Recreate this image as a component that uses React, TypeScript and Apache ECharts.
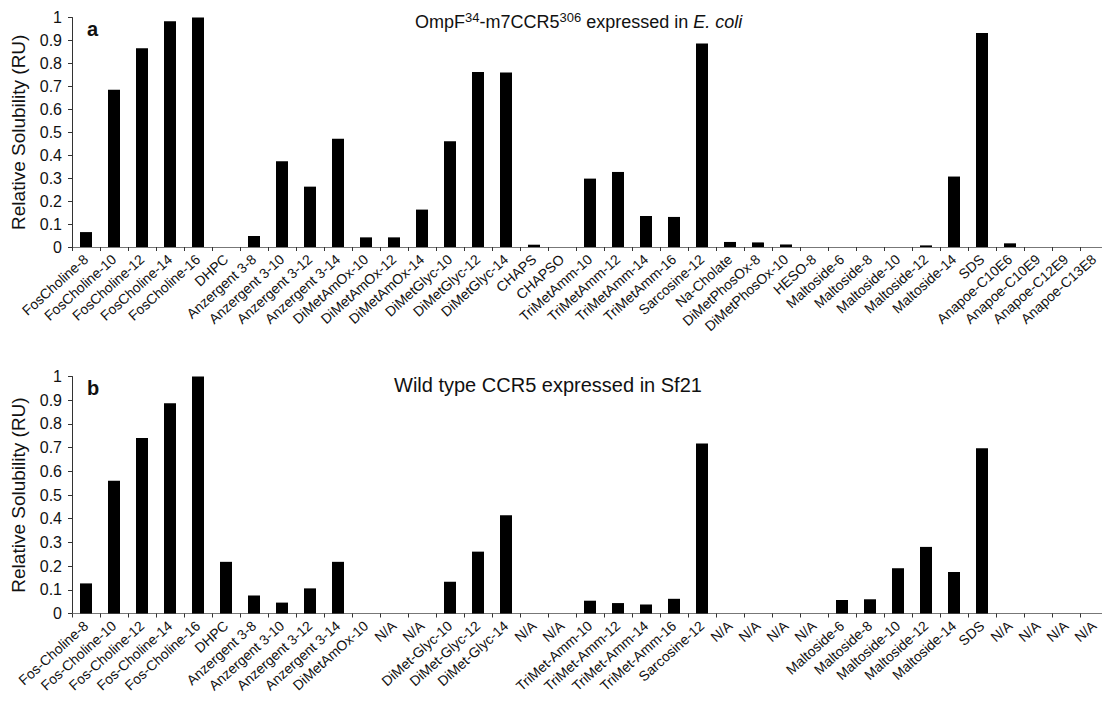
import React, { useEffect, useRef } from "react";
import * as echarts from "echarts";

const topCategories = [
  "FosCholine-8", "FosCholine-10", "FosCholine-12", "FosCholine-14", "FosCholine-16",
  "DHPC", "Anzergent 3-8", "Anzergent 3-10", "Anzergent 3-12", "Anzergent 3-14",
  "DiMetAmOx-10", "DiMetAmOx-12", "DiMetAmOx-14", "DiMetGlyc-10", "DiMetGlyc-12",
  "DiMetGlyc-14", "CHAPS", "CHAPSO", "TriMetAmm-10", "TriMetAmm-12", "TriMetAmm-14",
  "TriMetAmm-16", "Sarcosine-12", "Na-Cholate", "DiMetPhosOx-8", "DiMetPhosOx-10",
  "HESO-8", "Maltoside-6", "Maltoside-8", "Maltoside-10", "Maltoside-12", "Maltoside-14",
  "SDS", "Anapoe-C10E6", "Anapoe-C10E9", "Anapoe-C12E9", "Anapoe-C13E8",
];
const topValues = [
  0.065, 0.685, 0.866, 0.984, 1.0,
  0, 0.048, 0.374, 0.263, 0.472,
  0.042, 0.042, 0.163, 0.461, 0.763,
  0.76, 0.01, 0, 0.298, 0.327, 0.135,
  0.131, 0.887, 0.022, 0.02, 0.011,
  0, 0, 0, 0, 0.007, 0.307,
  0.932, 0.016, 0, 0, 0,
];

const bottomCategories = [
  "Fos-Choline-8", "Fos-Choline-10", "Fos-Choline-12", "Fos-Choline-14", "Fos-Choline-16",
  "DHPC", "Anzergent 3-8", "Anzergent 3-10", "Anzergent 3-12", "Anzergent 3-14",
  "DiMetAmOx-10", "N/A", "N/A", "DiMet-Glyc-10", "DiMet-Glyc-12",
  "DiMet-Glyc-14", "N/A", "N/A", "TriMet-Amm-10", "TriMet-Amm-12", "TriMet-Amm-14",
  "TriMet-Amm-16", "Sarcosine-12", "N/A", "N/A", "N/A",
  "N/A", "Maltoside-6", "Maltoside-8", "Maltoside-10", "Maltoside-12", "Maltoside-14",
  "SDS", "N/A", "N/A", "N/A", "N/A",
];
const bottomValues = [
  0.127, 0.56, 0.74, 0.887, 1.0,
  0.218, 0.076, 0.046, 0.106, 0.218,
  0, 0, 0, 0.134, 0.261,
  0.415, 0, 0, 0.054, 0.044, 0.038,
  0.062, 0.717, 0, 0, 0,
  0, 0.057, 0.06, 0.191, 0.281, 0.175,
  0.697, 0, 0, 0, 0,
];

const yTicks = { min: 0, max: 1, interval: 0.1 };
const topTitle = ["OmpF", "34", "-m7CCR5", "306", " expressed in ", "E. coli"];
const bottomTitle = "Wild type CCR5 expressed in Sf21";
const yName = "Relative Solubility (RU)";

const FONT = "'Liberation Sans', Arial, Helvetica, sans-serif";

export default function App() {
  const ref = useRef<HTMLDivElement>(null);
  useEffect(() => {
    if (!ref.current) return;
    const chart = echarts.init(ref.current, undefined, { renderer: "svg" });
    const makeX = (gridIndex: number, data: string[]) => ({
      type: "category",
      gridIndex,
      data,
      axisLine: { lineStyle: { color: "#777", width: 1 } },
      axisTick: { show: true, length: 4, lineStyle: { color: "#333" } },
      axisLabel: {
        interval: 0,
        rotate: 42,
        margin: 10,
        fontSize: 14,
        color: "#111",
        fontFamily: FONT,
      },
    });
    const makeY = (gridIndex: number) => ({
      type: "value",
      gridIndex,
      min: yTicks.min,
      max: yTicks.max,
      interval: yTicks.interval,
      name: yName,
      nameLocation: "middle",
      nameGap: 44,
      nameTextStyle: { fontSize: 19, color: "#111", fontFamily: FONT },
      splitLine: { show: false },
      axisLine: { show: true, lineStyle: { color: "#333", width: 1 } },
      axisTick: { show: true, length: 4, lineStyle: { color: "#333" } },
      axisLabel: { margin: 10, fontSize: 16, color: "#111", fontFamily: FONT },
    });
    chart.setOption({
      animation: false,
      backgroundColor: "#fff",
      title: [
        {
          text: `{n|${topTitle[0]}}{s|${topTitle[1]}}{n|${topTitle[2]}}{s|${topTitle[3]}}{n|${topTitle[4]}}{i|${topTitle[5]}}`,
          left: 410,
          top: 6,
          textStyle: {
            fontFamily: FONT,
            fontWeight: "normal",
            rich: {
              n: { fontSize: 18, color: "#111", fontFamily: FONT, fontWeight: "normal", lineHeight: 22 },
              s: { fontSize: 13, color: "#111", fontFamily: FONT, fontWeight: "normal", lineHeight: 14, verticalAlign: "top" },
              i: { fontSize: 18, color: "#111", fontFamily: FONT, fontWeight: "normal", fontStyle: "italic", lineHeight: 22 },
            },
          },
        },
        {
          text: bottomTitle,
          left: 389,
          top: 370,
          textStyle: { fontSize: 20, color: "#111", fontFamily: FONT, fontWeight: "normal" },
        },
        {
          text: "a",
          left: 82,
          top: 14,
          textStyle: { fontSize: 20, color: "#111", fontFamily: FONT, fontWeight: "bold" },
        },
        {
          text: "b",
          left: 82,
          top: 373,
          textStyle: { fontSize: 20, color: "#111", fontFamily: FONT, fontWeight: "bold" },
        },
      ],
      grid: [
        { left: 72, top: 17.5, width: 1036, height: 229.5 },
        { left: 72, top: 376.5, width: 1036, height: 237 },
      ],
      xAxis: [makeX(0, topCategories), makeX(1, bottomCategories)],
      yAxis: [makeY(0), makeY(1)],
      series: [
        {
          type: "bar",
          xAxisIndex: 0,
          yAxisIndex: 0,
          data: topValues,
          barWidth: 12,
          itemStyle: { color: "#000" },
        },
        {
          type: "bar",
          xAxisIndex: 1,
          yAxisIndex: 1,
          data: bottomValues,
          barWidth: 12,
          itemStyle: { color: "#000" },
        },
      ],
    });
    return () => chart.dispose();
  }, []);
  return (
    <div style={{ position: "fixed", left: 0, top: 0, width: 1102, height: 713, overflow: "hidden", background: "#fff" }}>
      <div ref={ref} style={{ width: 1130, height: 713 }} />
    </div>
  );
}
